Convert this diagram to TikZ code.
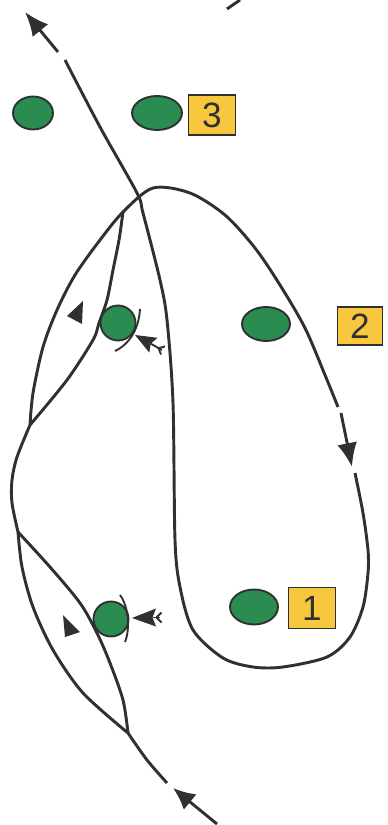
\documentclass[tikz,border=0pt]{standalone}
\usepackage{fontspec}
\setmainfont{Liberation Sans}
\usetikzlibrary{arrows.meta,shapes.geometric}
\definecolor{buoygreen}{RGB}{42,140,80}
\definecolor{markyellow}{RGB}{247,200,62}
\definecolor{inkgray}{RGB}{48,48,48}

\begin{document}
\begin{tikzpicture}[x=0.03cm, y=-0.03cm,
  route/.style={draw=inkgray, line width=2.5pt},
  buoy/.style={ellipse, draw=inkgray, line width=1.6pt, fill=buoygreen, inner sep=0pt},
  numbox/.style={rectangle, draw=inkgray, line width=1.4pt, fill=markyellow, inner sep=0pt,
    minimum width=1.41cm, minimum height=1.2cm, font=\fontsize{30}{30}\selectfont, text=inkgray},
  pointhead/.style={fill=inkgray},
  fork/.style={draw=inkgray, line width=1.6pt}]

  \useasboundingbox (0,0) rectangle (387,825);

  \coordinate (jA) at (128,733);
  \coordinate (jB) at (18,532);
  \coordinate (jC) at (30,425);
  \coordinate (jD) at (123,212);

  % course from the start
  \draw[route, -{Latex[length=0.66cm,width=0.6cm]}] (217,824) -- (173,788);
  \draw[route] plot[smooth] coordinates {(167,783) (147,760) (jA)};

  % lower loop
  \draw[route] plot[smooth] coordinates {(jA) (123,700) (110,663) (97,633) (80,603) (50,567) (jB)};
  \draw[route] plot[smooth] coordinates {(jA) (83,693) (53,650) (33,607) (22,567) (jB)};
  \draw[route] plot[smooth] coordinates {(jB) (12,503) (12,480) (17,457) (jC)};

  % upper loop
  \draw[route] plot[smooth] coordinates {(jC) (67,380) (93,340) (99,323) (107,300) (113,270) (119,240) (jD)};
  \draw[route] plot[smooth] coordinates {(jC) (33,393) (43,347) (57,310) (75,275) (100,240) (jD)
    (153,188) (190,193) (225,215) (255,248) (280,285) (305,328) (325,375) (338,407)};
  \draw[route, -{Latex[length=0.72cm,width=0.6cm]}] (341,413) -- (352,467);
  \draw[route] plot[smooth] coordinates {(355,473) (363,513) (368,550) (368,573) (363,607)
    (350,637) (327,657) (283,667) (253,667) (223,658) (193,630) (180,587) (175,540)
    (173,403) (167,320) (160,280) (143,213) (137,193) (100,127) (65,60)};
  \draw[route, -{Latex[length=0.72cm,width=0.6cm]}] (58,52) -- (25,12);

  \draw[route] (227,9) -- (240,0);

  % buoys and numbers
  \node[buoy, minimum width=1.2cm, minimum height=0.99cm] (buoyNW) at (33,113) {};
  \node[buoy, minimum width=1.5cm, minimum height=1.02cm] (buoy3) at (157,113) {};
  \node[numbox] (num3) at (212,115) {3};
  \node[buoy, minimum width=1.05cm, minimum height=1.05cm] (pinUp) at (118,323) {};
  \node[buoy, minimum width=1.44cm, minimum height=1.02cm] (buoy2) at (266,324) {};
  \node[numbox, minimum width=1.35cm, minimum height=1.14cm] (num2) at (360,326) {2};
  \node[buoy, minimum width=1.05cm, minimum height=1.05cm] (pinLow) at (111,619) {};
  \node[buoy, minimum width=1.44cm, minimum height=1.05cm] (buoy1) at (254,607) {};
  \node[numbox, minimum height=1.23cm] (num1) at (312,608) {1};

  % lines and arrows at the pins
  \draw[inkgray, line width=1.6pt] (140,309) .. controls (139,328) and (130,344) .. (115,351);
  \draw[inkgray, line width=1.6pt] (120,595) .. controls (129,607) and (130,630) .. (125,642);

  \fill[pointhead] (135,335) -- (157.5,337.8) -- (150.7,343.7) -- (149.3,352.6) -- cycle;
  \draw[fork] (150.7,343.7) -- (162,350);
  \draw[fork] (165,346.5) -- (158.5,348.1) -- (161,354.5);

  \fill[pointhead] (132,618) -- (156,608.5) -- (152.5,617.5) -- (156,626.5) -- cycle;
  \draw[fork] (152.5,617.5) -- (160,617.5);
  \draw[fork] (161.5,612.5) -- (156.5,617.5) -- (161.5,622.5);

  \fill[inkgray] (67,316) -- (83,301) -- (82,324) -- cycle;
  \fill[inkgray] (63,615) -- (80,632) -- (65,637) -- cycle;

\end{tikzpicture}
\end{document}
